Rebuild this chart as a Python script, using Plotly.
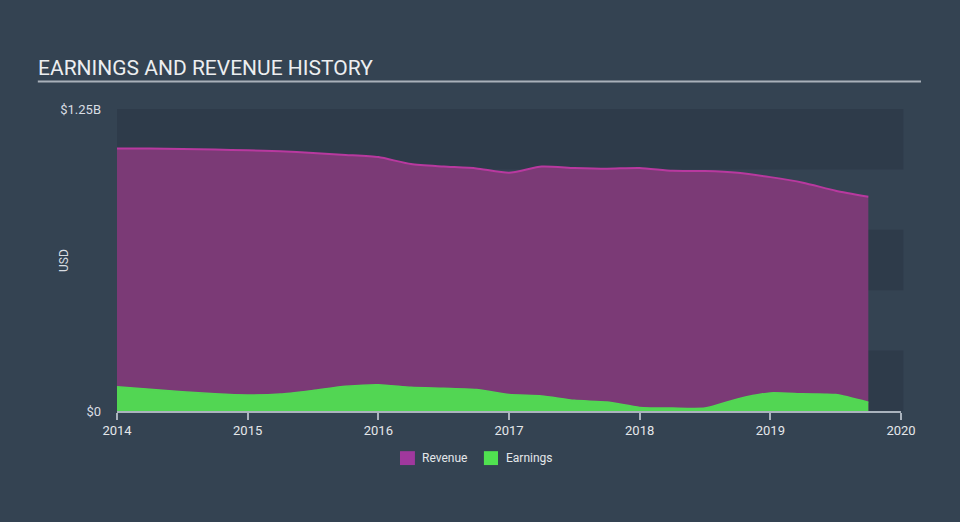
import plotly.graph_objects as go

quarters = [2014.0 + 0.25 * i for i in range(24)]
revenue_b = [1.087, 1.086, 1.084, 1.082, 1.079, 1.075, 1.068, 1.060, 1.051,
             1.022, 1.012, 1.004, 0.986, 1.012, 1.006, 1.003, 1.006, 0.994,
             0.993, 0.986, 0.968, 0.945, 0.912, 0.887]
earnings_b = [0.100, 0.090, 0.080, 0.071, 0.066, 0.070, 0.085, 0.102, 0.109,
              0.098, 0.094, 0.089, 0.068, 0.062, 0.044, 0.037, 0.015, 0.012,
              0.012, 0.050, 0.075, 0.071, 0.068, 0.036]
year_ticks = [2014, 2015, 2016, 2017, 2018, 2019, 2020]
y_ticks = [0, 1.25]
y_tick_labels = ["$0", "$1.25B"]
band_edges = [(0, 0.25), (0.5, 0.75), (1.0, 1.25)]
legend_names = ["Revenue", "Earnings"]
legend_colors = ["#a0389d", "#50e250"]

BG = "#344352"
BAND = "#2e3b4a"

fig = go.Figure()
fig.add_trace(go.Scatter(
    x=quarters, y=revenue_b, mode="lines", fill="tozeroy",
    line=dict(color="#b8399f", width=2, shape="spline", smoothing=0.6),
    fillcolor="#7b3a76", showlegend=False, hoverinfo="skip"))
fig.add_trace(go.Scatter(
    x=quarters, y=earnings_b, mode="lines", fill="tozeroy",
    line=dict(color="#52d653", width=1.5, shape="spline", smoothing=0.6),
    fillcolor="#52d653", showlegend=False, hoverinfo="skip"))

shapes = []
for lo, hi in band_edges:
    shapes.append(dict(type="rect", xref="paper", yref="y", x0=0, x1=1.003,
                       y0=lo, y1=hi, fillcolor=BAND, line=dict(width=0),
                       layer="below"))
shapes.append(dict(type="line", xref="paper", yref="paper", x0=-0.101, x1=1.0255,
                   y0=1.091, y1=1.091, line=dict(color="#a9b1ba", width=2)))

# manual legend (paper coords: x 0->117px, 1->901px; y 0->411px, 1->109px)
annotations = []
leg_sq_x = [(0.361, 0.380), (0.468, 0.486)]
leg_txt_x = [0.3865, 0.4936]
for name, col, (sx0, sx1), tx in zip(legend_names, legend_colors, leg_sq_x, leg_txt_x):
    shapes.append(dict(type="rect", xref="paper", yref="paper", x0=sx0, x1=sx1,
                       y0=-0.179, y1=-0.133, fillcolor=col, line=dict(width=0)))
    annotations.append(dict(text=name, xref="paper", yref="paper", x=tx,
                            y=-0.1556, xanchor="left", yanchor="middle",
                            showarrow=False,
                            font=dict(size=12, color="#e4e7ea")))
annotations.append(dict(text="USD", xref="paper", yref="paper",
                        x=(64 - 117) / 784, y=0.5, textangle=-90,
                        xanchor="center", yanchor="middle", showarrow=False,
                        font=dict(size=12, color="#d9dde2")))

fig.update_layout(
    width=960, height=522,
    margin=dict(l=117, r=59, t=109, b=111),
    paper_bgcolor=BG, plot_bgcolor=BG,
    font=dict(family="Roboto", color="#d9dde2", size=12),
    shapes=shapes, annotations=annotations, showlegend=False,
    title=dict(text="EARNINGS AND REVENUE HISTORY", x=38 / 960, xanchor="left",
               y=1 - 68 / 522, yanchor="middle",
               font=dict(family="Roboto", size=21, color="#eceef0")),
    xaxis=dict(range=[2014, 2020], tickvals=year_ticks,
               ticktext=[str(v) for v in year_ticks],
               showgrid=False, zeroline=False, showline=True,
               linecolor="#aab3bd", linewidth=1.5, ticks="outside",
               ticklen=7, tickcolor="#aab3bd", tickwidth=1.5,
               tickfont=dict(size=13, color="#e4e7ea")),
    yaxis=dict(range=[0, 1.25], tickvals=y_ticks, ticktext=y_tick_labels,
               showgrid=False, zeroline=False, showline=False,
               ticks="", ticklabelstandoff=15,
               tickfont=dict(size=13, color="#d9dde2")),
)

fig.write_html("out.html")
